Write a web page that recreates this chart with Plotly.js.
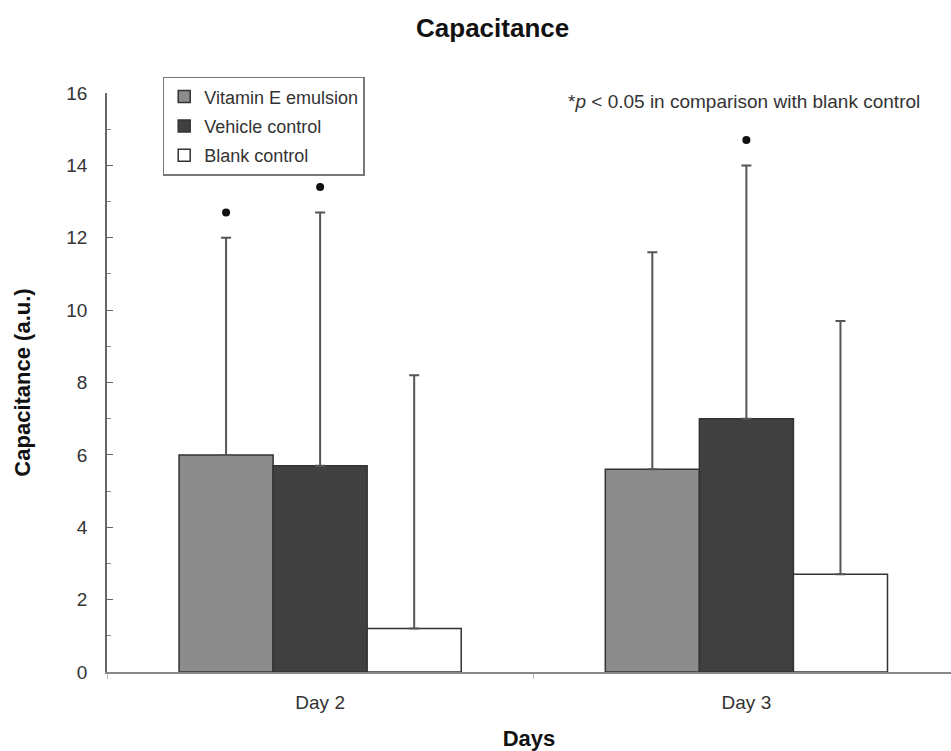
<!DOCTYPE html>
<html>
<head>
<meta charset="utf-8">
<script src="https://cdn.plot.ly/plotly-3.0.1.min.js"></script>
<style>
html,body{margin:0;padding:0;background:#fff;}
#chart{width:951px;height:751px;}
</style>
</head>
<body>
<div id="chart"></div>
<script>
// ---- data ----
const days = ['Day 2', 'Day 3'];
const seriesNames = ['Vitamin E emulsion', 'Vehicle control', 'Blank control'];
const vitaminE = [6.0, 5.6];
const vehicle = [5.7, 7.0];
const blank = [1.2, 2.7];
const vitaminEUpper = [12.0, 11.6];   // top of error bar
const vehicleUpper = [12.7, 14.0];
const blankUpper = [8.2, 9.7];
const vitaminEStars = [12.7, null];   // significance markers
const vehicleStars = [13.4, 14.7];
const blankStars = [null, null];
const yTicks = [0, 2, 4, 6, 8, 10, 12, 14, 16];
const noteText = '*<i>p</i> &lt; 0.05 in comparison with blank control';

const FONT = '"Liberation Sans", Arial, Helvetica, sans-serif';
const fills = ['#8c8c8c', '#404040', '#ffffff'];
const values = [vitaminE, vehicle, blank];
const uppers = [vitaminEUpper, vehicleUpper, blankUpper];
const stars = [vitaminEStars, vehicleStars, blankStars];
const groups = ['g1', 'g2', 'g3'];

const traces = [];
values.forEach((vals, i) => {
  traces.push({
    type: 'bar',
    name: seriesNames[i],
    x: days,
    y: vals,
    offsetgroup: groups[i],
    legendgroup: groups[i],
    marker: {color: fills[i], line: {color: '#333333', width: 1.5}},
    error_y: {
      type: 'data',
      symmetric: false,
      array: uppers[i].map((u, k) => u - vals[k]),
      arrayminus: vals.map(() => 0),
      color: '#555555',
      thickness: 2,
      width: 5
    },
    hoverinfo: 'x+y+name'
  });
});
stars.forEach((s, i) => {
  traces.push({
    type: 'scatter',
    mode: 'markers',
    x: days,
    y: s,
    offsetgroup: groups[i],
    showlegend: false,
    marker: {color: '#111111', size: 8, symbol: 'circle'},
    hoverinfo: 'skip'
  });
});

const layout = {
  width: 951,
  height: 751,
  paper_bgcolor: '#ffffff',
  plot_bgcolor: '#ffffff',
  font: {family: FONT, color: '#333333', size: 18},
  margin: {l: 107, r: 0, t: 93, b: 79},
  barmode: 'group',
  bargap: 0.338,
  bargroupgap: 0,
  scattermode: 'group',
  scattergap: 0.338,
  title: {
    text: '<b>Capacitance</b>',
    font: {family: FONT, size: 26, color: '#111111'},
    x: 0.518, xanchor: 'center',
    y: 0.963, yanchor: 'middle'
  },
  xaxis: {
    type: 'category',
    range: [-0.5, 1.48],
    showline: true,
    linecolor: '#888888',
    linewidth: 2,
    showgrid: false,
    zeroline: false,
    ticks: 'outside',
    tickson: 'boundaries',
    ticklen: 5,
    tickcolor: '#bbbbbb',
    ticklabelstandoff: 12,
    tickfont: {family: FONT, size: 19, color: '#333333'},
    title: {text: '<b>Days</b>', font: {family: FONT, size: 22, color: '#111111'}, standoff: 26},
    automargin: false
  },
  yaxis: {
    range: [0, 16],
    tickvals: yTicks,
    showline: true,
    linecolor: '#666666',
    linewidth: 1.5,
    showgrid: false,
    zeroline: false,
    ticks: 'inside',
    ticklen: 6,
    tickcolor: '#666666',
    minor: {dtick: 1, ticks: 'inside', ticklen: 4, tickcolor: '#888888', showgrid: false},
    ticklabelstandoff: 14,
    tickfont: {family: FONT, size: 19, color: '#333333'},
    title: {text: '<b>Capacitance (a.u.)</b>', font: {family: FONT, size: 22, color: '#111111'}, standoff: 30},
    automargin: false
  },
  legend: {
    x: 0.066, xanchor: 'left',
    y: 1.028, yanchor: 'top',
    bgcolor: '#ffffff',
    bordercolor: '#777777',
    borderwidth: 1.5,
    traceorder: 'grouped',
    tracegroupgap: 3,
    font: {family: FONT, size: 18, color: '#333333'},
    itemwidth: 30
  },
  annotations: [{
    xref: 'paper', yref: 'paper',
    x: 0.966, y: 0.985,
    xanchor: 'right', yanchor: 'middle',
    text: noteText,
    showarrow: false,
    font: {family: FONT, size: 19, color: '#333333'}
  }],
  showlegend: true
};

Plotly.newPlot('chart', traces, layout, {displayModeBar: false, responsive: false});
</script>
</body>
</html>
